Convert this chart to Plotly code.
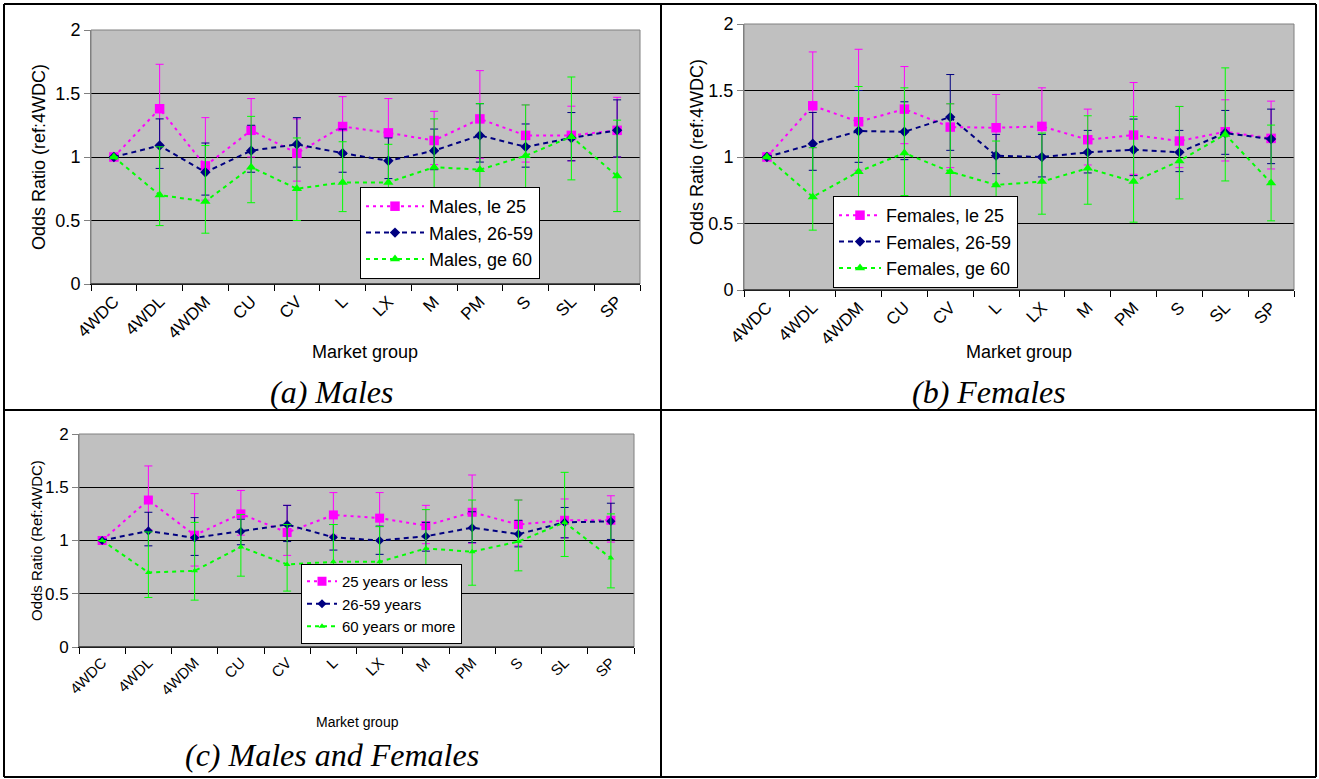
import plotly.graph_objects as go

# ---------------- data ----------------
categories = ["4WDC", "4WDL", "4WDM", "CU", "CV", "L", "LX", "M", "PM", "S", "SL", "SP"]

# (a) Males
males_le25 = [1.00, 1.38, 0.93, 1.21, 1.03, 1.24, 1.19, 1.13, 1.30, 1.17, 1.17, 1.21]
males_le25_hi = [1.00, 1.73, 1.31, 1.46, 1.30, 1.475, 1.46, 1.36, 1.68, 1.41, 1.40, 1.47]
males_le25_lo = [1.00, 1.10, 0.66, 1.00, 0.81, 1.04, 0.97, 0.94, 0.99, 0.96, 0.97, 1.00]

males_26_59 = [1.00, 1.09, 0.88, 1.05, 1.10, 1.03, 0.97, 1.05, 1.17, 1.08, 1.15, 1.21]
males_26_59_hi = [1.00, 1.30, 1.11, 1.25, 1.31, 1.22, 1.15, 1.22, 1.42, 1.26, 1.35, 1.45]
males_26_59_lo = [1.00, 0.91, 0.70, 0.88, 0.92, 0.88, 0.83, 0.90, 0.96, 0.92, 0.97, 1.00]

males_ge60 = [1.00, 0.70, 0.65, 0.92, 0.75, 0.80, 0.80, 0.92, 0.90, 1.01, 1.16, 0.85]
males_ge60_hi = [1.00, 1.08, 1.09, 1.32, 1.15, 1.12, 1.10, 1.30, 1.42, 1.41, 1.63, 1.29]
males_ge60_lo = [1.00, 0.46, 0.40, 0.64, 0.50, 0.57, 0.58, 0.66, 0.59, 0.72, 0.82, 0.57]

# (b) Females
females_le25 = [1.00, 1.385, 1.265, 1.36, 1.225, 1.22, 1.23, 1.13, 1.165, 1.12, 1.19, 1.14]
females_le25_hi = [1.00, 1.79, 1.81, 1.68, 1.40, 1.47, 1.52, 1.36, 1.56, 1.38, 1.43, 1.42]
females_le25_lo = [1.00, 1.07, 0.90, 1.10, 0.92, 1.00, 0.99, 0.94, 0.87, 0.92, 0.97, 0.91]

females_26_59 = [1.00, 1.10, 1.195, 1.19, 1.30, 1.01, 1.00, 1.035, 1.055, 1.035, 1.18, 1.135]
females_26_59_hi = [1.00, 1.335, 1.50, 1.415, 1.62, 1.17, 1.17, 1.20, 1.285, 1.20, 1.35, 1.36]
females_26_59_lo = [1.00, 0.90, 0.96, 0.98, 1.05, 0.875, 0.85, 0.88, 0.86, 0.89, 1.02, 0.95]

females_ge60 = [1.00, 0.70, 0.89, 1.03, 0.89, 0.79, 0.815, 0.915, 0.815, 0.97, 1.17, 0.805]
females_ge60_hi = [1.00, 1.07, 1.53, 1.52, 1.40, 1.12, 1.18, 1.31, 1.305, 1.38, 1.67, 1.24]
females_ge60_lo = [1.00, 0.45, 0.53, 0.71, 0.58, 0.55, 0.57, 0.645, 0.51, 0.685, 0.82, 0.52]

# (c) Males and Females
all_le25 = [1.00, 1.38, 1.05, 1.25, 1.075, 1.24, 1.21, 1.14, 1.265, 1.15, 1.19, 1.19]
all_le25_hi = [1.00, 1.70, 1.44, 1.47, 1.33, 1.45, 1.45, 1.33, 1.615, 1.38, 1.39, 1.42]
all_le25_lo = [1.00, 1.10, 0.76, 1.05, 0.86, 1.05, 1.00, 0.97, 0.975, 0.95, 1.025, 0.985]

all_26_59 = [1.00, 1.09, 1.025, 1.085, 1.15, 1.03, 1.00, 1.04, 1.12, 1.06, 1.17, 1.18]
all_26_59_hi = [1.00, 1.265, 1.215, 1.20, 1.33, 1.15, 1.135, 1.17, 1.27, 1.19, 1.31, 1.35]
all_26_59_lo = [1.00, 0.95, 0.86, 0.96, 0.99, 0.91, 0.87, 0.90, 0.98, 0.94, 1.025, 1.01]

all_ge60 = [1.00, 0.70, 0.715, 0.94, 0.775, 0.80, 0.80, 0.925, 0.895, 0.99, 1.17, 0.835]
all_ge60_hi = [1.00, 1.08, 1.17, 1.245, 1.15, 1.15, 1.13, 1.29, 1.38, 1.38, 1.64, 1.25]
all_ge60_lo = [1.00, 0.465, 0.44, 0.665, 0.525, 0.58, 0.58, 0.66, 0.58, 0.715, 0.85, 0.555]

y_ticks = [0, 0.5, 1, 1.5, 2]
y_tick_text = ["0", "0.5", "1", "1.5", "2"]

# ---------------- layout helpers ----------------
W, H = 1319, 779
FONT = "Liberation Sans, Arial, sans-serif"
SERIF = "Liberation Serif, Times New Roman, serif"
MAG, NAVY, GREEN = "#FF00FF", "#000080", "#00FF00"


def px(x):
    return x / W


def py(y):
    return 1 - y / H


fig = go.Figure()


def add_series(name, vals, hi, lo, color, symbol, msize, dash, xa, ya, legend):
    fig.add_trace(go.Scatter(
        x=categories, y=vals, name=name, mode="lines+markers",
        line=dict(color=color, width=2, dash=dash),
        marker=dict(color=color, symbol=symbol, size=msize, line=dict(width=0)),
        error_y=dict(type="data", symmetric=False,
                     array=[h - v for h, v in zip(hi, vals)],
                     arrayminus=[v - l for v, l in zip(vals, lo)],
                     color=color, thickness=1, width=4),
        xaxis=xa, yaxis=ya, legend=legend,
    ))


add_series("Males, le 25", males_le25, males_le25_hi, males_le25_lo, MAG, "square", 9.5, "3px,4px", "x", "y", "legend")
add_series("Males, 26-59", males_26_59, males_26_59_hi, males_26_59_lo, NAVY, "diamond", 8, "5px,4px", "x", "y", "legend")
add_series("Males, ge 60", males_ge60, males_ge60_hi, males_ge60_lo, GREEN, "triangle-up", 9, "4px,4px", "x", "y", "legend")

add_series("Females, le 25", females_le25, females_le25_hi, females_le25_lo, MAG, "square", 9.5, "3px,4px", "x2", "y2", "legend2")
add_series("Females, 26-59", females_26_59, females_26_59_hi, females_26_59_lo, NAVY, "diamond", 8, "5px,4px", "x2", "y2", "legend2")
add_series("Females, ge 60", females_ge60, females_ge60_hi, females_ge60_lo, GREEN, "triangle-up", 9, "4px,4px", "x2", "y2", "legend2")

add_series("25 years or less", all_le25, all_le25_hi, all_le25_lo, MAG, "square", 9, "3px,4px", "x3", "y3", "legend3")
add_series("26-59 years", all_26_59, all_26_59_hi, all_26_59_lo, NAVY, "diamond", 7, "5px,4px", "x3", "y3", "legend3")
add_series("60 years or more", all_ge60, all_ge60_hi, all_ge60_lo, GREEN, "triangle-up", 6, "4px,4px", "x3", "y3", "legend3")

# plot areas in pixels: (left, top, right, bottom)
areas = {
    "a": (91, 30, 640, 284),
    "b": (744, 24, 1294, 290),
    "c": (79, 434, 634, 647),
}


def xaxis_cfg(area, anchor, fs):
    l, t, r, b = area
    return dict(domain=[px(l), px(r)], anchor=anchor, type="category",
                categoryorder="array", categoryarray=categories,
                range=[-0.5, len(categories) - 0.5], tickson="boundaries",
                ticks="outside", ticklen=6, tickcolor="black", tickwidth=1,
                tickangle=-45, showline=True, linecolor="black", linewidth=1,
                showgrid=False, zeroline=False, automargin=False,
                tickfont=dict(family=FONT, size=fs, color="black"))


def yaxis_cfg(area, anchor, fs):
    l, t, r, b = area
    return dict(domain=[py(b), py(t)], anchor=anchor, range=[0, 2],
                tickvals=y_ticks, ticktext=y_tick_text,
                ticks="outside", ticklen=6, tickcolor="#808080",
                showline=True, linecolor="#808080", linewidth=1,
                showgrid=True, gridcolor="black", gridwidth=1, zeroline=False,
                automargin=False,
                tickfont=dict(family=FONT, size=fs, color="black"))


def legend_cfg(x, y_bottom, fs, iw):
    return dict(x=px(x), y=py(y_bottom), xanchor="left", yanchor="bottom",
                bgcolor="white", bordercolor="black", borderwidth=1,
                font=dict(family=FONT, size=fs, color="black"),
                itemwidth=iw, tracegroupgap=0, itemclick=False)


fig.update_layout(
    width=W, height=H, margin=dict(l=0, r=0, t=0, b=0, pad=0, autoexpand=False),
    paper_bgcolor="white", plot_bgcolor="#C0C0C0",
    font=dict(family=FONT, color="black"),
    xaxis=xaxis_cfg(areas["a"], "y", 17),
    yaxis=yaxis_cfg(areas["a"], "x", 18),
    xaxis2=xaxis_cfg(areas["b"], "y2", 17),
    yaxis2=yaxis_cfg(areas["b"], "x2", 18),
    xaxis3=xaxis_cfg(areas["c"], "y3", 15),
    yaxis3=yaxis_cfg(areas["c"], "x3", 17),
    legend=legend_cfg(360, 279, 18, 58),
    legend2=legend_cfg(833, 288, 18, 42),
    legend3=legend_cfg(301, 644, 15, 30),
    showlegend=True,
)

shapes = []
# plot-area gray borders (top & right) and black category-axis line
for xr, yr in (("x", "y"), ("x2", "y2"), ("x3", "y3")):
    shapes.append(dict(type="rect", xref=f"{xr} domain", yref=f"{yr} domain",
                       x0=0, x1=1, y0=0, y1=1, line=dict(color="#808080", width=1),
                       fillcolor="rgba(0,0,0,0)", layer="above"))
    shapes.append(dict(type="line", xref=f"{xr} domain", yref=f"{yr} domain",
                       x0=0, x1=1, y0=0, y1=0, line=dict(color="black", width=1),
                       layer="above"))

# table cell borders
for yy in (4, 410, 777):
    shapes.append(dict(type="line", xref="paper", yref="paper", x0=px(4), x1=px(1316),
                       y0=py(yy), y1=py(yy), line=dict(color="black", width=2)))
for xx in (4, 661, 1316):
    shapes.append(dict(type="line", xref="paper", yref="paper", x0=px(xx), x1=px(xx),
                       y0=py(4), y1=py(777), line=dict(color="black", width=2)))
fig.update_layout(shapes=shapes)

ann = []


def text(x, y, s, size, family=FONT, angle=0):
    ann.append(dict(x=px(x), y=py(y), xref="paper", yref="paper", text=s,
                    showarrow=False, xanchor="center", yanchor="middle",
                    textangle=angle, font=dict(family=family, size=size, color="black")))


text(39, 157, "Odds Ratio (ref:4WDC)", 18, angle=-90)
text(697, 152, "Odds Ratio (ref:4WDC)", 18, angle=-90)
text(36, 541, "Odds Ratio (Ref:4WDC)", 15, angle=-90)
text(365, 352, "Market group", 18)
text(1019, 352, "Market group", 18)
text(357, 722, "Market group", 14)
text(332, 392, "<i>(a) Males</i>", 32, family=SERIF)
text(989, 392, "<i>(b) Females</i>", 32, family=SERIF)
text(332, 755, "<i>(c) Males and Females</i>", 32, family=SERIF)
fig.update_layout(annotations=ann)

post = (
    "document.documentElement.style.margin='0';"
    "document.documentElement.style.padding='0';"
    "document.documentElement.style.overflow='hidden';"
    "document.body.style.margin='0';"
    "document.body.style.padding='0';"
    "document.body.style.overflow='hidden';"
    "var gd=document.getElementById('{plot_id}');"
    "gd.style.position='absolute';gd.style.left='0px';gd.style.top='0px';"
)

fig.write_html("out.html", config={"displayModeBar": False}, post_script=post)
